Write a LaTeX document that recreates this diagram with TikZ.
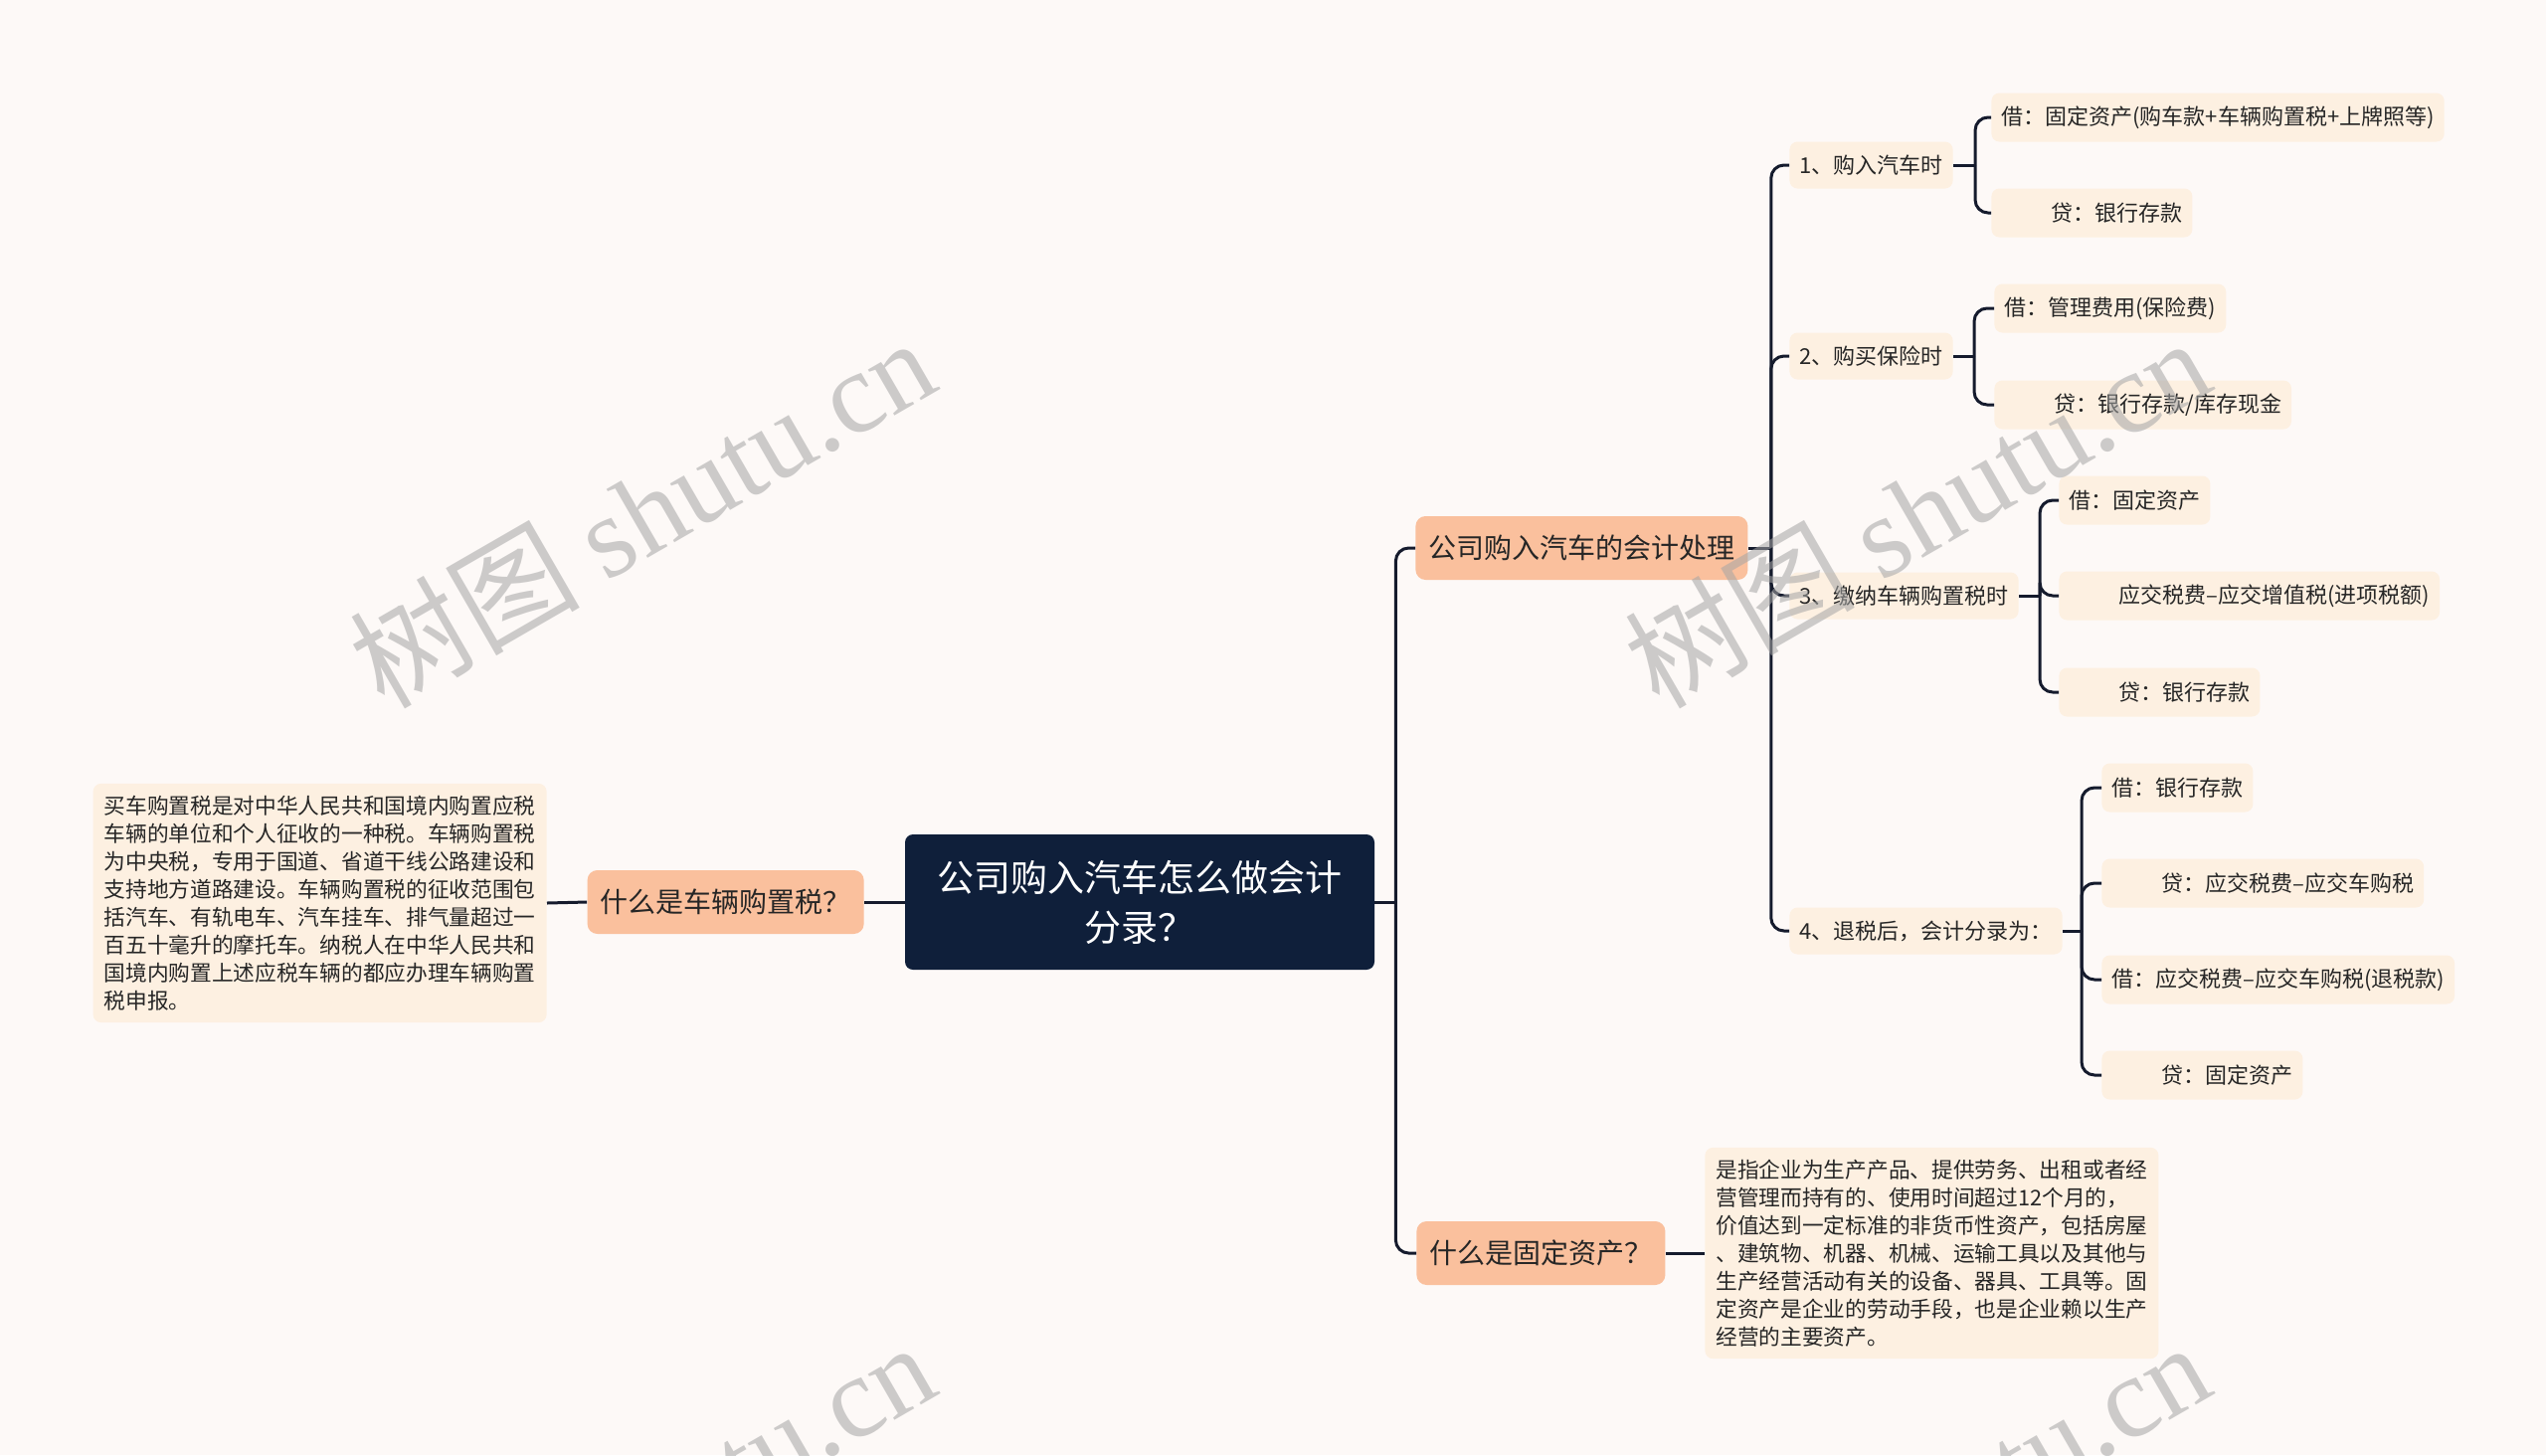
\documentclass[tikz,border=0pt]{standalone}
\usepackage{fontspec}
\setmainfont{Noto Sans CJK SC}
\newfontfamily\wmlat{Liberation Serif}
\usetikzlibrary{calc}
\definecolor{bg}{HTML}{FDF9F7}
\definecolor{navy}{HTML}{0F1F3A}
\definecolor{salmon}{HTML}{FAC09D}
\definecolor{cream}{HTML}{FDF0E1}
\definecolor{linec}{HTML}{151B2D}
\definecolor{txt}{HTML}{262626}
\definecolor{wm}{HTML}{A5A5A5}
\begin{document}
\begin{tikzpicture}[x=0.5pt,y=-0.5pt,
 conn/.style={draw=linec,line width=1.5pt,rounded corners=6.5pt},
 root/.style={fill=navy,rounded corners=4pt,text=white,font=\fontsize{18.5}{25}\selectfont,align=center,minimum width=236pt,minimum height=68pt},
 lvone/.style={fill=salmon,rounded corners=5pt,text=txt,font=\fontsize{14}{17}\selectfont,inner xsep=6.5pt,minimum height=32pt},
 lvtwo/.style={fill=cream,rounded corners=4pt,text=txt,font=\fontsize{11}{13}\selectfont,inner xsep=5pt,minimum height=23.5pt,anchor=west},
 leaf/.style={fill=cream,rounded corners=4pt,text=txt,font=\fontsize{11}{13}\selectfont,inner xsep=5pt,minimum height=24.5pt,anchor=west},
 para/.style={fill=cream,rounded corners=4pt,text=txt,font=\fontsize{10.85}{14}\selectfont,align=left,inner xsep=5.5pt,inner ysep=6pt},
 wmark/.style={rotate=30,text=wm,text opacity=0.55,font=\fontsize{58}{58}\selectfont}
]
\fill[bg] (0,0) rectangle (2560,1463);
\useasboundingbox (0,0) rectangle (2560,1463);

% nodes
\node[root] (root) at (1146,907) {公司购入汽车怎么做会计\\分录？};
\node[lvone,anchor=east] (q1) at (869,907) {什么是车辆购置税？};
\node[para,anchor=east] (p1) at (550,908) {买车购置税是对中华人民共和国境内购置应税\\车辆的单位和个人征收的一种税。车辆购置税\\为中央税，专用于国道、省道干线公路建设和\\支持地方道路建设。车辆购置税的征收范围包\\括汽车、有轨电车、汽车挂车、排气量超过一\\百五十毫升的摩托车。纳税人在中华人民共和\\国境内购置上述应税车辆的都应办理车辆购置\\税申报。};
\node[lvone,anchor=west] (a) at (1423,551) {公司购入汽车的会计处理};
\node[lvone,anchor=west] (q2) at (1424,1260) {什么是固定资产？};
\node[para,anchor=west] (p2) at (1714,1260) {是指企业为生产产品、提供劳务、出租或者经\\营管理而持有的、使用时间超过12个月的，\\价值达到一定标准的非货币性资产，包括房屋\\、建筑物、机器、机械、运输工具以及其他与\\生产经营活动有关的设备、器具、工具等。固\\定资产是企业的劳动手段，也是企业赖以生产\\经营的主要资产。};

\node[lvtwo] (s1) at (1799,166) {1、购入汽车时};
\node[lvtwo] (s2) at (1799,358) {2、购买保险时};
\node[lvtwo] (s3) at (1799,599) {3、缴纳车辆购置税时};
\node[lvtwo] (s4) at (1799,936) {4、退税后，会计分录为：};

\node[leaf] (l11) at (2002,118) {借：固定资产(购车款+车辆购置税+上牌照等)};
\node[leaf] (l12) at (2002,214) {\hspace*{25pt}贷：银行存款};
\node[leaf] (l21) at (2005,310) {借：管理费用(保险费)};
\node[leaf] (l22) at (2005,407) {\hspace*{25pt}贷：银行存款/库存现金};
\node[leaf] (l31) at (2070,503) {借：固定资产};
\node[leaf] (l32) at (2070,599) {\hspace*{25pt}应交税费–应交增值税(进项税额)};
\node[leaf] (l33) at (2070,696) {\hspace*{25pt}贷：银行存款};
\node[leaf] (l41) at (2113,792) {借：银行存款};
\node[leaf] (l42) at (2113,888) {\hspace*{25pt}贷：应交税费–应交车购税};
\node[leaf] (l43) at (2113,985) {借：应交税费–应交车购税(退税款)};
\node[leaf] (l44) at (2113,1081) {\hspace*{25pt}贷：固定资产};

% connectors
\draw[conn] (root.west) -- (q1.east);
\draw[conn] (q1.west) -- (p1.east);
\draw[conn] (q2.east) -- (p2.west);
\draw[conn] (root.east) -- ++(21,0) coordinate (t0);
\draw[conn] (t0) |- (a.west);
\draw[conn] (t0) |- (q2.west);
\draw[conn] (a.east) -- ++(23,0) coordinate (t1);
\foreach \s in {s1,s2,s3,s4} {\draw[conn] (t1) |- (\s.west);}
\draw[conn] (s1.east) -- ++(22,0) coordinate (u1);
\foreach \l in {l11,l12} {\draw[conn] (u1) |- (\l.west);}
\draw[conn] (s2.east) -- ++(21,0) coordinate (u2);
\foreach \l in {l21,l22} {\draw[conn] (u2) |- (\l.west);}
\draw[conn] (s3.east) -- ++(21,0) coordinate (u3);
\foreach \l in {l31,l32,l33} {\draw[conn] (u3) |- (\l.west);}
\draw[conn] (s4.east) -- ++(19,0) coordinate (u4);
\foreach \l in {l41,l42,l43,l44} {\draw[conn] (u4) |- (\l.west);}

% watermarks
\begin{scope}
\clip (0,0) rectangle (2560,1463);
\node[wmark] (w1) at (645,514) {树图 {\wmlat shutu.cn}};
\node[wmark] (w2) at (1927,514) {树图 {\wmlat shutu.cn}};
\node[wmark] (w3) at (645,1524) {树图 {\wmlat shutu.cn}};
\node[wmark] (w4) at (1927,1524) {树图 {\wmlat shutu.cn}};
\end{scope}
\end{tikzpicture}
\end{document}
